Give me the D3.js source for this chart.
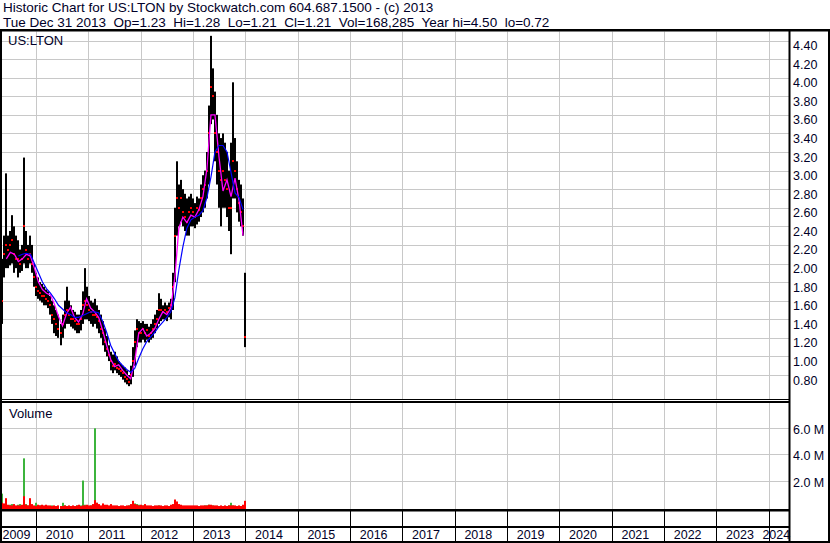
<!DOCTYPE html>
<html><head><meta charset="utf-8">
<script src="https://cdn.jsdelivr.net/npm/d3@7"></script>
<style>
body{margin:0;background:#fff}
svg{display:block}
text{font-family:Arial,"Liberation Sans",sans-serif;fill:#000028;white-space:pre}
</style>
</head><body><svg id="c" width="830" height="543"></svg>
<script>
// ---- data ----
const firstDate = "2009-05-11";      // first bar; one bar every 14 days
const stepDays = 14;
const highs = [2.05,2.30,2.97,2.30,2.35,2.52,2.40,2.30,2.25,2.15, 2.20,3.14,2.35,2.20,2.30,2.20,2.00,1.90,1.85,1.80,
  1.78,1.75,1.72,1.70,1.65,1.60,1.55,1.50,1.45,1.35, 1.45,1.60,1.75,1.60,1.55,1.50,1.48,1.45,1.45,1.50,
  1.70,1.95,1.75,1.65,1.60,1.58,1.62,1.55,1.50,1.45, 1.38,1.30,1.22,1.12,1.05,1.02,1.05,1.00,0.95,0.92,
  0.90,0.88,0.85,0.80,0.90,1.10,1.28,1.40,1.38,1.36, 1.38,1.35,1.35,1.32,1.35,1.40,1.45,1.50,1.68,1.62,
  1.55,1.58,1.55,1.58,1.62,1.90,2.60,3.10,2.85,2.90, 2.80,2.75,2.70,2.72,2.75,2.70,2.65,2.72,2.70,2.85,
  2.95,3.00,3.20,3.70,4.45,4.10,3.85,3.60,3.40,3.35, 3.40,3.30,3.20,3.00,3.30,3.95,3.35,3.10,2.90,2.85,
  2.70,1.90];
const lows = [1.35,1.85,1.95,1.95,1.98,2.00,1.90,1.95,1.85,1.90, 1.92,2.00,1.95,1.95,2.00,1.90,1.75,1.65,1.62,1.60,
  1.58,1.55,1.55,1.52,1.45,1.35,1.25,1.22,1.20,1.12, 1.20,1.30,1.35,1.35,1.32,1.30,1.28,1.25,1.25,1.28,
  1.35,1.40,1.40,1.38,1.35,1.32,1.35,1.30,1.25,1.20, 1.12,1.05,1.00,0.95,0.85,0.82,0.85,0.82,0.80,0.78,
  0.75,0.72,0.70,0.68,0.70,0.78,0.90,1.10,1.15,1.15, 1.18,1.15,1.18,1.15,1.18,1.20,1.25,1.30,1.35,1.38,
  1.40,1.40,1.38,1.42,1.40,1.50,1.80,2.30,2.40,2.45, 2.40,2.35,2.30,2.30,2.40,2.40,2.38,2.42,2.45,2.50,
  2.55,2.60,2.70,2.85,3.50,3.55,3.10,2.85,2.60,2.40, 2.60,2.60,2.50,2.35,2.10,2.70,2.70,2.55,2.45,2.40,
  2.30,1.10];
const closes = [1.60,2.10,2.20,2.15,2.20,2.25,2.10,2.05,2.05,2.00, 2.05,2.40,2.15,2.05,2.10,2.00,1.85,1.75,1.70,1.68,
  1.65,1.65,1.62,1.60,1.55,1.45,1.40,1.35,1.30,1.25, 1.35,1.45,1.50,1.45,1.40,1.40,1.38,1.35,1.35,1.40,
  1.55,1.60,1.55,1.50,1.48,1.45,1.45,1.42,1.38,1.30, 1.25,1.15,1.08,1.02,0.95,0.90,0.92,0.88,0.86,0.84,
  0.82,0.78,0.76,0.72,0.80,0.95,1.15,1.30,1.25,1.25, 1.30,1.25,1.28,1.22,1.25,1.30,1.35,1.40,1.50,1.50,
  1.48,1.50,1.48,1.52,1.55,1.75,2.30,2.70,2.60,2.70, 2.55,2.50,2.45,2.55,2.60,2.55,2.50,2.60,2.58,2.70,
  2.80,2.85,3.00,3.40,3.90,3.80,3.40,3.20,3.00,2.90, 3.00,2.90,2.80,2.60,2.60,3.10,3.00,2.80,2.65,2.55,
  2.40,1.21];
// moving averages, one value every second bar
const maFast = [null,2.05,2.12,2.10,2.02,2.05,2.10,2.08,1.95,1.80, 1.72,1.68,1.66,1.56,1.43,1.33,1.46,1.53,1.42,1.37,
  1.45,1.62,1.52,1.48,1.42,1.28,1.12,0.97,0.89,0.91, 0.85,0.80,0.76,0.95,1.25,1.30,1.22,1.25,1.30,1.40,
  1.48,1.45,1.52,1.85,2.38,2.50,2.44,2.52,2.50,2.58, 2.72,3.02,3.60,3.60,3.15,2.78,2.90,2.72,2.92,2.68,
  2.30];
const maSlow = [null,null,null,null,2.08,2.10,2.11,2.10,2.00,1.90, 1.80,1.73,1.68,1.62,1.55,1.51,1.47,1.45,1.42,1.42,
  1.44,1.46,1.48,1.48,1.47,1.38,1.26,1.12,1.03,0.95, 0.90,0.86,0.83,0.87,0.98,1.08,1.16,1.21,1.26,1.32,
  1.37,1.42,1.48,1.63,1.93,2.18,2.38,2.47,2.50,2.52, 2.57,2.71,2.93,3.20,3.27,3.27,3.20,2.98,2.76,2.71,
  2.58];
// volume in millions: up-days (green) and down-days (red)
const volUp = [1.00,0.20,0.25,0.10,0.15,0.20,0.10,0.05,0.15,0.20, 0.10,3.70,0.20,0.10,0.15,0.10,0.05,0.30,0.05,0.10,
  0.05,0.05,0.10,0.05,0.05,0.10,0.05,0.05,0.05,0.05, 0.30,0.10,0.05,0.05,0.05,0.05,0.05,0.10,0.05,0.10,
  2.00,0.15,0.10,0.05,0.10,0.15,6.00,0.30,0.10,0.05, 0.10,0.10,0.05,0.05,0.10,0.05,0.05,0.05,0.05,0.05,
  0.05,0.05,0.05,0.10,0.15,0.20,0.25,0.20,0.15,0.10, 0.10,0.10,0.05,0.05,0.05,0.05,0.05,0.05,0.10,0.05,
  0.05,0.05,0.05,0.05,0.10,0.15,0.20,0.30,0.10,0.10, 0.05,0.05,0.05,0.05,0.05,0.05,0.05,0.05,0.05,0.05,
  0.05,0.10,0.10,0.15,0.10,0.10,0.05,0.05,0.05,0.05, 0.05,0.05,0.05,0.10,0.30,0.10,0.05,0.05,0.05,0.05,
  0.10,0.15];
const volDown = [0.30,0.25,0.65,0.15,0.10,0.10,0.20,0.10,0.10,0.10, 0.15,0.80,0.15,0.10,0.65,0.20,0.10,0.05,0.15,0.10,
  0.15,0.10,0.15,0.10,0.10,0.05,0.10,0.05,0.10,0.05, 0.05,0.10,0.05,0.10,0.05,0.10,0.05,0.10,0.15,0.05,
  0.10,0.10,0.15,0.10,0.10,0.20,0.50,0.30,0.20,0.10, 0.25,0.15,0.15,0.10,0.20,0.10,0.10,0.10,0.05,0.10,
  0.10,0.05,0.10,0.10,0.20,0.45,0.20,0.15,0.10,0.15, 0.10,0.20,0.10,0.10,0.10,0.05,0.10,0.10,0.10,0.10,
  0.05,0.10,0.10,0.05,0.15,0.20,0.55,0.40,0.20,0.15, 0.10,0.10,0.10,0.10,0.10,0.10,0.10,0.10,0.05,0.10,
  0.10,0.10,0.10,0.15,0.15,0.10,0.10,0.10,0.05,0.10, 0.05,0.10,0.05,0.10,0.10,0.10,0.10,0.05,0.10,0.05,
  0.15,0.45];
const priceTicks = [0.80,1.00,1.20,1.40,1.60,1.80,2.00,2.20,2.40,2.60,2.80,3.00,3.20,3.40,3.60,3.80,4.00,4.20,4.40];
const volTicks = [2,4,6];
const volTickLabels = ["2.0 M","4.0 M","6.0 M"];
const years = [2009,2010,2011,2012,2013,2014,2015,2016,2017,2018,2019,2020,2021,2022,2023,2024];
const titleLine1 = "Historic Chart for US:LTON by Stockwatch.com 604.687.1500 - (c) 2013";
const titleLine2 = "Tue Dec 31 2013  Op=1.23  Hi=1.28  Lo=1.21  Cl=1.21  Vol=168,285  Year hi=4.50  lo=0.72";

// ---- layout ----
const W = 830, H = 543;
const L = 2, R = 789;               // plot area x
const pTop = 31.5, pBot = 399;      // price panel
const vTop = 403, vBot = 509;       // volume panel
const svg = d3.select("#c");

const parse = d3.timeParse("%Y-%m-%d");
const d0 = parse(firstDate);
const bars = highs.map((h,i)=>({date:d3.timeDay.offset(d0, i*stepDays), hi:h, lo:lows[i], cl:closes[i], up:volUp[i], dn:volDown[i]}));
const maData = maFast.map((v,j)=>({date:d3.timeDay.offset(d0, j*2*stepDays), f:v, s:maSlow[j]}));

const x = d3.scaleTime().domain([new Date(2010,0,1), new Date(2024,0,1)]).range([36, 768.6]);
const yP = d3.scaleLinear().domain([0.8,4.4]).range([375,40.5]);
const yV = d3.scaleLinear().domain([0,6]).range([506.7,428.3]);
const px = v => Math.round(v);

const defs = svg.append("defs");
defs.append("clipPath").attr("id","cp").append("rect").attr("x",L).attr("y",pTop).attr("width",R-L).attr("height",pBot-pTop);
defs.append("clipPath").attr("id","cv").append("rect").attr("x",L).attr("y",vTop).attr("width",R-L).attr("height",vBot-vTop);

svg.append("rect").attr("width",W).attr("height",H).attr("fill","#fff");

// header
svg.append("text").attr("x",3).attr("y",12).attr("font-size",13.5).text(titleLine1);
svg.append("text").attr("x",3).attr("y",26.5).attr("font-size",13.5).text(titleLine2);

const gridColor = "#c8c8c8";
const yearDates = years.slice(1).map(y=>new Date(y,0,1));

// price panel grid
const gP = svg.append("g");
gP.selectAll("line.h").data(priceTicks).join("line")
  .attr("x1",L).attr("x2",R).attr("y1",d=>px(yP(d))+0.5).attr("y2",d=>px(yP(d))+0.5)
  .attr("stroke",gridColor);
gP.selectAll("line.v").data(yearDates).join("line")
  .attr("x1",d=>px(x(d))+0.5).attr("x2",d=>px(x(d))+0.5).attr("y1",pTop).attr("y2",pBot)
  .attr("stroke",gridColor);

// volume panel grid
const gV = svg.append("g");
gV.selectAll("line.h").data(volTicks).join("line")
  .attr("x1",L).attr("x2",R).attr("y1",d=>px(yV(d))+0.5).attr("y2",d=>px(yV(d))+0.5)
  .attr("stroke",gridColor);
gV.selectAll("line.v").data(yearDates).join("line")
  .attr("x1",d=>px(x(d))+0.5).attr("x2",d=>px(x(d))+0.5).attr("y1",vTop).attr("y2",vBot)
  .attr("stroke",gridColor);

// price bars
const gBars = svg.append("g").attr("clip-path","url(#cp)");
gBars.selectAll("rect.b").data(bars).join("rect")
  .attr("x",d=>px(x(d.date))-1).attr("width",2)
  .attr("y",d=>yP(d.hi)).attr("height",d=>Math.max(1,yP(d.lo)-yP(d.hi)))
  .attr("fill","#000");
gBars.selectAll("rect.c").data(bars).join("rect")
  .attr("x",d=>px(x(d.date))-1).attr("width",2)
  .attr("y",d=>px(yP(d.cl))-1).attr("height",2)
  .attr("fill","#ff0000");
const lineF = d3.line().defined(d=>d.f!=null).x(d=>x(d.date)).y(d=>yP(d.f));
const lineS = d3.line().defined(d=>d.s!=null).x(d=>x(d.date)).y(d=>yP(d.s));
gBars.append("path").datum(maData).attr("d",lineF).attr("fill","none").attr("stroke","#ff00ff").attr("stroke-width",1.3);
gBars.append("path").datum(maData).attr("d",lineS).attr("fill","none").attr("stroke","#0000ff").attr("stroke-width",1.2);

// volume bars
const gVol = svg.append("g").attr("clip-path","url(#cv)");
gVol.selectAll("rect.u").data(bars).join("rect")
  .attr("x",d=>px(x(d.date))-1).attr("width",2)
  .attr("y",d=>yV(d.up)).attr("height",d=>vBot-yV(d.up)).attr("fill","#3cb43c");
gVol.selectAll("rect.d").data(bars).join("rect")
  .attr("x",d=>px(x(d.date))-1).attr("width",2)
  .attr("y",d=>yV(d.dn)).attr("height",d=>vBot-yV(d.dn)).attr("fill","#ff0000");

// axes labels (right)
const axP = d3.axisRight(yP).tickValues(priceTicks).tickFormat(d3.format(".2f")).tickSize(0).tickPadding(3);
const gAP = svg.append("g").attr("transform","translate(790,0)").call(axP);
gAP.select(".domain").remove();
gAP.selectAll("text").attr("dy","0.72em").attr("fill","#000028").style("font-size","12.5px").style("font-family","Arial, 'Liberation Sans', sans-serif");

const axV = d3.axisRight(yV).tickValues(volTicks).tickFormat((d,i)=>volTickLabels[i]).tickSize(0).tickPadding(3);
const gAV = svg.append("g").attr("transform","translate(790,0)").call(axV);
gAV.select(".domain").remove();
gAV.selectAll("text").attr("dy","0.44em").attr("fill","#000028").style("font-size","12.5px").style("font-family","Arial, 'Liberation Sans', sans-serif");

// panel labels
svg.append("text").attr("x",8).attr("y",45).attr("font-size",13).text("US:LTON");
svg.append("text").attr("x",9).attr("y",418).attr("font-size",13).text("Volume");

// x axis rows: separators and year labels
const gX = svg.append("g");
gX.selectAll("line").data(yearDates).join("line")
  .attr("x1",d=>px(x(d))+0.5).attr("x2",d=>px(x(d))+0.5).attr("y1",510).attr("y2",541)
  .attr("stroke","#000");
gX.selectAll("text").data(years).join("text")
  .attr("x",y=>{const a=Math.max(L,x(new Date(y,0,1))), b=Math.min(R,x(new Date(y+1,0,1))); return (a+b)/2-2.5;})
  .attr("y",538.5).attr("text-anchor","middle").attr("font-size",12.5)
  .text(y=>y);

// frame lines
const blk = (x0,y0,w,h)=>svg.append("rect").attr("x",x0).attr("y",y0).attr("width",w).attr("height",h).attr("fill","#000");
blk(0,29,W,2.5);          // top rule
blk(0,31,2,512);          // left border
blk(788.5,31,2,512);      // axis separator
blk(828,31,2,512);        // right border
blk(0,399,789,1);         // price panel bottom
blk(0,401,789,2);         // volume panel top
blk(0,509,789,2.5);       // volume bottom
blk(0,526,789,2);         // mid rule of x axis
blk(0,541,W,2);           // bottom
</script>
</body></html>
